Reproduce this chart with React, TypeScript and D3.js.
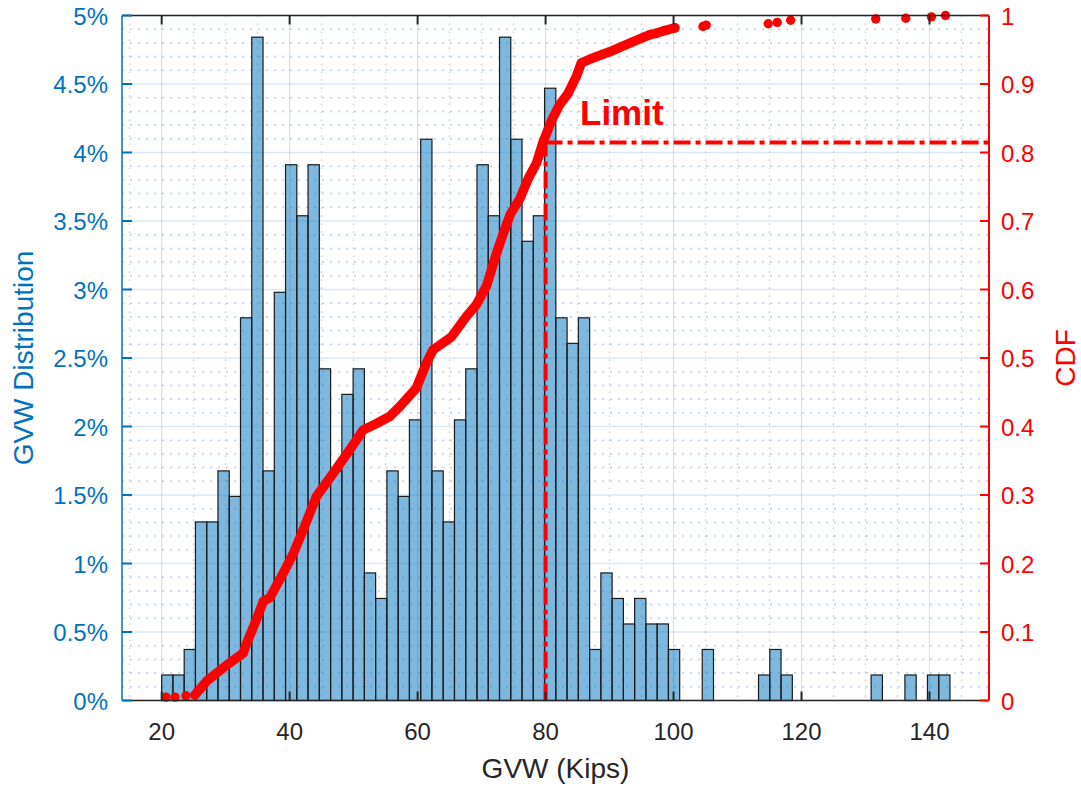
import React from "react";
import * as d3 from "d3";

// ---- Data ----
const BIN_START = 20.0;
const BIN_WIDTH = 1.76;
const binCounts = [
  1, 1, 2, 7, 7, 9, 8, 15, 26, 9,
  16, 21, 19, 21, 13, 9, 12, 13, 5, 4,
  9, 8, 11, 22, 9, 7, 11, 13, 21, 19,
  26, 22, 18, 19, 24, 15, 14, 15, 2, 5,
  4, 3, 4, 3, 3, 2, 0, 0, 2, 0,
  0, 0, 0, 1, 2, 1, 0, 0, 0, 0,
  0, 0, 0, 1, 0, 0, 1, 0, 1, 1,
];

const cdfCurveX = [25.2, 27.0, 30.2, 32.75, 33.3, 34.8, 35.9, 36.9, 39.0, 40.6, 42.1, 44.2, 46.3, 49.4, 51.5, 53.5, 55.7, 57.2, 59.8, 61.4, 62.4, 65.3, 67.65, 69.2, 70.8, 72.3, 73.4, 74.5, 76.0, 77.3, 78.6, 79.6, 81.0, 82.2, 83.5, 84.8, 85.6, 87.4, 90.0, 93.7, 96.3, 97.3, 98.6, 100.2];
const cdfCurveY = [0.008, 0.028, 0.052, 0.069, 0.084, 0.118, 0.145, 0.150, 0.186, 0.215, 0.249, 0.298, 0.325, 0.366, 0.395, 0.404, 0.415, 0.429, 0.456, 0.493, 0.512, 0.531, 0.561, 0.578, 0.606, 0.652, 0.682, 0.710, 0.733, 0.762, 0.785, 0.815, 0.848, 0.870, 0.886, 0.911, 0.931, 0.938, 0.947, 0.962, 0.972, 0.974, 0.978, 0.982];

const cdfDotX = [20.67, 22.08, 23.8, 25.2, 96.3, 97.3, 98.6, 100.2, 104.6, 105.1, 114.8, 116.2, 118.3, 131.6, 136.3, 140.3, 142.5];
const cdfDotY = [0.005, 0.005, 0.007, 0.008, 0.972, 0.974, 0.978, 0.982, 0.984, 0.986, 0.988, 0.990, 0.993, 0.995, 0.996, 0.998, 1.0];

const xTicks = [20, 40, 60, 80, 100, 120, 140];
const leftTicks = [0, 0.005, 0.01, 0.015, 0.02, 0.025, 0.03, 0.035, 0.04, 0.045, 0.05];
const leftTickLabels = ["0%", "0.5%", "1%", "1.5%", "2%", "2.5%", "3%", "3.5%", "4%", "4.5%", "5%"];
const rightTicks = [0, 0.1, 0.2, 0.3, 0.4, 0.5, 0.6, 0.7, 0.8, 0.9, 1];
const rightTickLabels = ["0", "0.1", "0.2", "0.3", "0.4", "0.5", "0.6", "0.7", "0.8", "0.9", "1"];

const LIMIT_X = 80;
const LIMIT_CDF = 0.8146;

const X_DOMAIN = [13.8, 149.3];

// ---- Layout ----
const W = 1081;
const H = 788;
const L = 122;
const R = 989;
const T = 15.5;
const B = 700.5;

const BLUE = "#0072BD";
const RED = "#FF0000";
const DARK = "#262626";
const FONT = "'Liberation Sans', Arial, Helvetica, sans-serif";

export default function App() {
  const x = d3.scaleLinear().domain(X_DOMAIN).range([L, R]);
  const yL = d3.scaleLinear().domain([0, 0.05]).range([B, T]);
  const yR = d3.scaleLinear().domain([0, 1]).range([B, T]);

  const N = d3.sum(binCounts);

  const xMinor = d3.range(15, 150, 5).filter((v) => v % 20 !== 0);
  const yMinor = d3.range(0, 51, 1).map((v) => v / 1000).filter((_, i) => i % 5 !== 0);

  const line = d3
    .line<number>()
    .x((_, i) => x(cdfCurveX[i]))
    .y((_, i) => yR(cdfCurveY[i]));

  return (
    <svg
      width={W}
      height={H}
      style={{ position: "absolute", left: 0, top: 0, background: "#fff" }}
      fontFamily={FONT}
    >
      <rect x={0} y={0} width={W} height={H} fill="#fff" />
      {/* minor grid */}
      {xMinor.map((v) => (
        <line key={"xm" + v} x1={x(v)} x2={x(v)} y1={T} y2={B} stroke="rgba(38,38,38,0.3)" strokeWidth={1} strokeDasharray="1.5,6.5" />
      ))}
      {yMinor.map((v, i) => (
        <line key={"ym" + i} x1={L} x2={R} y1={yL(v)} y2={yL(v)} stroke="rgba(0,114,189,0.3)" strokeWidth={1.5} strokeDasharray="2,6" />
      ))}
      {/* major grid */}
      {xTicks.map((v) => (
        <line key={"xg" + v} x1={x(v)} x2={x(v)} y1={T} y2={B} stroke="rgba(38,38,38,0.15)" strokeWidth={1.2} />
      ))}
      {leftTicks.map((v, i) => (
        <line key={"yg" + i} x1={L} x2={R} y1={yL(v)} y2={yL(v)} stroke="rgba(0,114,189,0.15)" strokeWidth={1.5} />
      ))}

      {/* histogram bars */}
      {binCounts.map((c, i) => {
        const x0 = x(BIN_START + i * BIN_WIDTH);
        const x1 = x(BIN_START + (i + 1) * BIN_WIDTH);
        const y0 = yL(c / N);
        return (
          <rect
            key={"b" + i}
            x={x0}
            y={y0}
            width={x1 - x0}
            height={B - y0}
            fill={BLUE}
            fillOpacity={0.5}
            stroke="#1a1a1a"
            strokeWidth={1.2}
          />
        );
      })}

      {/* CDF */}
      <path d={line(cdfCurveX) || ""} fill="none" stroke={RED} strokeWidth={9.5} strokeLinejoin="round" strokeLinecap="round" />
      {cdfDotX.map((v, i) => (
        <circle key={"d" + i} cx={x(v)} cy={yR(cdfDotY[i])} r={4.7} fill={RED} />
      ))}

      {/* Limit lines */}
      <line x1={x(LIMIT_X)} x2={x(LIMIT_X)} y1={B} y2={yR(LIMIT_CDF)} stroke={RED} strokeWidth={4} strokeDasharray="17,5,5,5" />
      <line x1={x(LIMIT_X)} x2={R} y1={yR(LIMIT_CDF)} y2={yR(LIMIT_CDF)} stroke={RED} strokeWidth={4} strokeDasharray="17,5,5,5" />
      <text x={580} y={125} fill={RED} fontSize={35} fontWeight="bold">Limit</text>

      {/* axes */}
      <line x1={L} x2={R} y1={T} y2={T} stroke={DARK} strokeWidth={1.5} />
      <line x1={L} x2={R} y1={B} y2={B} stroke={DARK} strokeWidth={1.5} />
      <line x1={L} x2={L} y1={T} y2={B} stroke={BLUE} strokeWidth={1.5} />
      <line x1={R} x2={R} y1={T} y2={B} stroke={RED} strokeWidth={2} />

      {xTicks.map((v) => (
        <g key={"xt" + v}>
          <line x1={x(v)} x2={x(v)} y1={B} y2={B - 9} stroke={DARK} strokeWidth={2} />
          <line x1={x(v)} x2={x(v)} y1={T} y2={T + 9} stroke={DARK} strokeWidth={2} />
          <text x={x(v)} y={740} textAnchor="middle" fontSize={24} fill={DARK}>{v}</text>
        </g>
      ))}
      {leftTicks.map((v, i) => (
        <g key={"lt" + i}>
          <line x1={L} x2={L + 10} y1={yL(v)} y2={yL(v)} stroke={BLUE} strokeWidth={2} />
          <text x={108} y={yL(v) + 9} textAnchor="end" fontSize={24} fill={BLUE}>{leftTickLabels[i]}</text>
        </g>
      ))}
      {rightTicks.map((v, i) => (
        <g key={"rt" + i}>
          <line x1={R} x2={R - 9} y1={yR(v)} y2={yR(v)} stroke={RED} strokeWidth={2} />
          <text x={1001} y={yR(v) + 9} textAnchor="start" fontSize={24} fill={RED}>{rightTickLabels[i]}</text>
        </g>
      ))}

      {/* axis labels */}
      <text x={(L + R) / 2} y={778} textAnchor="middle" fontSize={28} fill={DARK}>GVW (Kips)</text>
      <text transform={`translate(33,${(T + B) / 2}) rotate(-90)`} textAnchor="middle" fontSize={28} fill={BLUE}>GVW Distribution</text>
      <text transform={`translate(1075,${(T + B) / 2}) rotate(-90)`} textAnchor="middle" fontSize={28} fill={RED}>CDF</text>
    </svg>
  );
}
